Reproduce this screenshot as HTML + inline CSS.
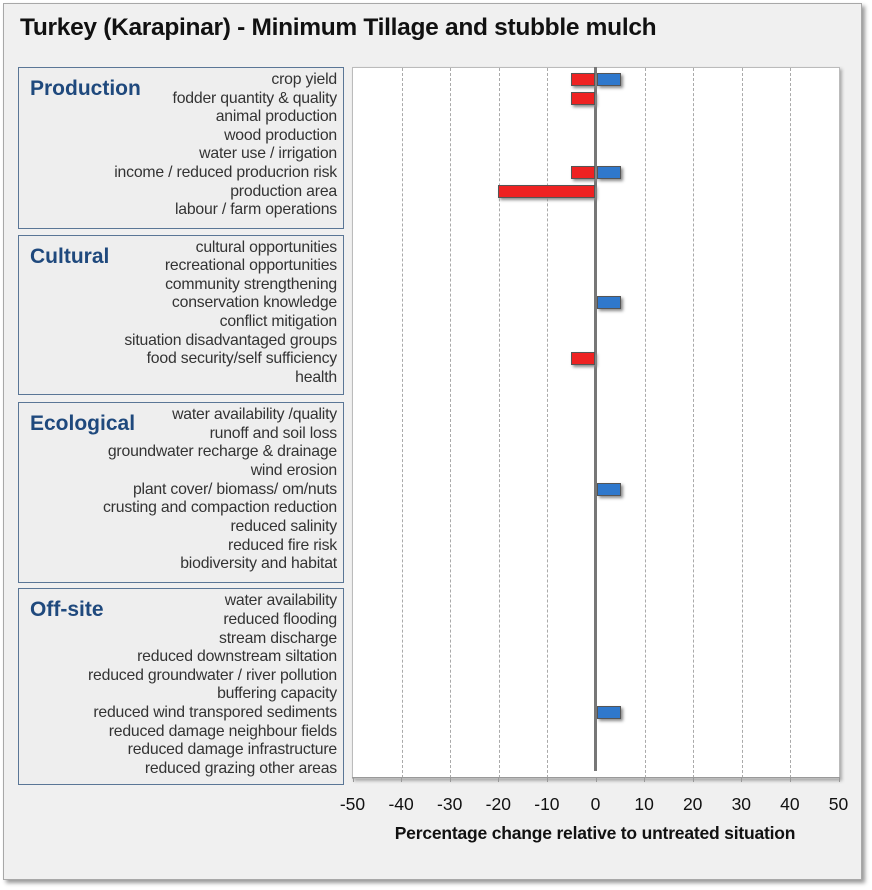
<!DOCTYPE html>
<html><head><meta charset="utf-8"><style>
body{margin:0;background:#fff;width:872px;height:890px;position:relative;font-family:"Liberation Sans",sans-serif;overflow:hidden}
.frame{position:absolute;left:3px;top:3px;width:857px;height:875px;background:#f0f0f0;border:1px solid #a8a8a8;box-shadow:3px 3px 4px #999}
.title{position:absolute;left:20px;top:14px;font-size:24.5px;font-weight:bold;color:#111;letter-spacing:-0.3px}
.box{position:absolute;left:18px;width:324px;border:1px solid #5a7696;background:#eeeeee}
.gh{position:absolute;left:11px;font-size:21px;font-weight:bold;color:#1f497d}
.lab{position:absolute;font-size:15.8px;color:#333;white-space:nowrap;text-align:right;letter-spacing:-0.2px}
.plot{position:absolute;left:352px;top:67px;width:486px;height:710px;background:#fff;border:1px solid #bbb;box-shadow:2px 2px 3px #aaa}
.grid{position:absolute;top:0;height:710px;border-left:1px dashed #aaa}
.tick{position:absolute;top:794px;font-size:17.5px;color:#111;transform:translateX(-50%)}
.bar{position:absolute;height:11px;border:1px solid #555;box-shadow:2px 2px 3px #888}
.r{background:#ee2222}.b{background:#2f78cc}
</style></head><body>
<div class="frame"></div>
<div class="title">Turkey (Karapinar) - Minimum Tillage and stubble mulch</div>

<div class="box" style="top:67px;height:160px"><div class="gh" style="top:9px">Production</div></div>
<div class="box" style="top:235px;height:158px"><div class="gh" style="top:9px">Cultural</div></div>
<div class="box" style="top:402px;height:179px"><div class="gh" style="top:9px">Ecological</div></div>
<div class="box" style="top:588px;height:195px"><div class="gh" style="top:9px">Off-site</div></div>

<div class="plot">
<div class="grid" style="left:48.6px"></div><div class="grid" style="left:97.2px"></div><div class="grid" style="left:145.8px"></div><div class="grid" style="left:194.4px"></div>
<div class="grid" style="left:291.6px"></div><div class="grid" style="left:340.2px"></div><div class="grid" style="left:388.8px"></div><div class="grid" style="left:437.4px"></div>
</div>
<div style="position:absolute;left:594px;top:67px;width:3px;height:704px;background:#777"></div>
<div style="position:absolute;left:352px;top:777px;width:487px;height:1px;background:#999"></div>
<div style="position:absolute;left:345px;width:500px;text-align:center;top:823px;font-size:17.5px;font-weight:bold;color:#111;letter-spacing:-0.2px">Percentage change relative to untreated situation</div>
<div id="labs"></div>
<script>
var rows=["crop yield","fodder quantity & quality","animal production","wood production","water use / irrigation","income / reduced producrion risk","production area","labour / farm operations","",
"cultural opportunities","recreational opportunities","community strengthening","conservation knowledge","conflict mitigation","situation disadvantaged groups","food security/self sufficiency","health","",
"water availability /quality","runoff and soil loss","groundwater recharge & drainage","wind erosion","plant cover/ biomass/ om/nuts","crusting and compaction reduction","reduced salinity","reduced fire risk","biodiversity and habitat","",
"water availability","reduced flooding","stream discharge","reduced downstream siltation","reduced groundwater / river pollution","buffering capacity","reduced wind transpored sediments","reduced damage neighbour fields","reduced damage infrastructure","reduced grazing other areas"];
var bars={0:[-5,5],1:[-5,0],5:[-5,5],6:[-20,0],12:[0,5],15:[-5,0],22:[0,5],34:[0,5]};
var h="";var x0=595.5,s=4.86;
rows.forEach(function(t,i){var y=79+i*18.62;
if(t)h+='<div class="lab" style="right:'+(872-337)+'px;top:'+(y-8)+'px">'+t.replace(/&/g,"&amp;")+'</div>';
if(bars[i]){var a=bars[i][0],b=bars[i][1];
if(a<0)h+='<div class="bar r" style="left:'+(x0+a*s)+'px;width:'+(-a*s-2)+'px;top:'+(y-6)+'px"></div>';
if(b>0)h+='<div class="bar b" style="left:'+(x0+1)+'px;width:'+(b*s-2)+'px;top:'+(y-6)+'px"></div>';}
});
for(var v=-50;v<=50;v+=10){h+='<div class="tick" style="left:'+(x0+v*s)+'px">'+v+'</div>';
h+='<div style="position:absolute;left:'+(x0+v*s)+'px;top:777px;width:1px;height:5px;background:#999"></div>';}
document.getElementById("labs").innerHTML=h;
</script>
</body></html>
